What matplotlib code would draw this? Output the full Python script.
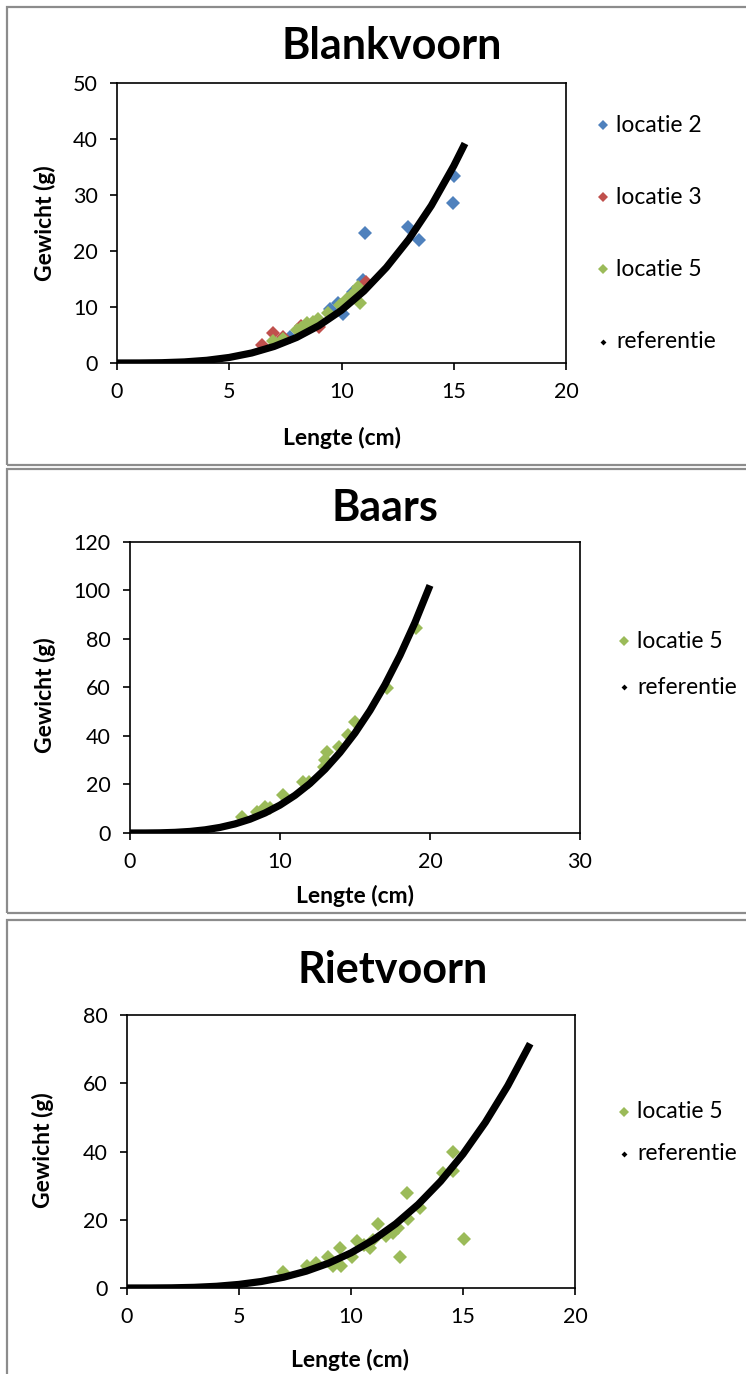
import matplotlib
matplotlib.use("Agg")
import matplotlib.pyplot as plt
from matplotlib.patches import Rectangle
from matplotlib.lines import Line2D

plt.rcParams['font.family'] = ['Lato', 'DejaVu Sans']

# Colours (Excel 2007 palette)
blue = '#4F81BD'
red = '#C0504D'
green = '#9BBB59'

# ---- Blankvoorn ----
bv_loc2_len = [11.05, 15.0, 14.98, 12.97, 13.47, 10.97, 10.05, 9.85, 9.5, 10.5, 7.7, 7.4]
bv_loc2_w = [23.2, 33.4, 28.5, 24.3, 22.0, 14.9, 8.8, 10.7, 9.6, 12.7, 4.7, 4.4]
bv_loc3_len = [6.96, 6.48, 7.38, 11.1, 8.2, 9.0]
bv_loc3_w = [5.3, 3.2, 4.7, 14.5, 6.6, 6.5]
bv_loc5_len = [6.96, 7.38, 8.0, 8.45, 8.97, 9.42, 9.93, 10.23, 10.5, 10.75, 10.82, 8.2, 8.75]
bv_loc5_w = [4.0, 4.2, 5.9, 7.1, 7.8, 8.9, 10.4, 11.5, 12.4, 13.5, 10.7, 6.3, 7.3]
bv_ref_len = [0, 1, 2, 3, 4, 5, 6, 7, 8, 9, 10, 11, 12, 13, 14, 15, 15.5]
bv_ref_w = [0, 0.005, 0.05, 0.19, 0.48, 0.99, 1.79, 2.96, 4.56, 6.69, 9.42,
            12.85, 17.06, 22.1, 28.1, 35.2, 39.2]

# ---- Baars ----
ba_loc5_len = [7.49, 8.45, 9.0, 9.33, 10.22, 11.55, 11.9, 12.9, 13.1, 13.0, 13.95, 14.5, 15.0, 17.1, 19.07]
ba_loc5_w = [6.5, 8.8, 10.8, 10.2, 15.7, 21.2, 21.0, 27.3, 33.5, 30.0, 35.6, 40.4, 45.9, 59.6, 84.4]
ba_ref_len = [0, 1, 2, 3, 4, 5, 6, 7, 8, 9, 10, 11, 12, 13, 14, 15, 16, 17, 18, 19, 20]
ba_ref_w = [0, 0.008, 0.07, 0.26, 0.64, 1.30, 2.30, 3.74, 5.69, 8.25, 11.5,
            15.53, 20.42, 26.27, 33.19, 41.23, 50.52, 61.16, 73.25, 86.83, 102.1]

# ---- Rietvoorn ----
rv_loc5_len = [6.98, 8.02, 8.44, 8.99, 9.21, 9.51, 9.54, 10.03, 10.25, 10.6, 10.85, 11.22, 11.0,
               11.56, 11.86, 12.1, 12.2, 12.5, 12.56, 13.08, 14.1, 14.54, 14.57, 15.04]
rv_loc5_w = [4.8, 6.5, 7.4, 9.2, 6.5, 11.6, 6.5, 9.0, 13.9, 12.5, 11.6, 18.8, 14.0,
             15.2, 16.2, 17.5, 9.0, 27.8, 20.1, 23.4, 33.6, 40.0, 34.2, 14.5]
rv_ref_len = [0, 1, 2, 3, 4, 5, 6, 7, 8, 9, 10, 11, 12, 13, 14, 15, 16, 17, 18]
rv_ref_w = [0, 0.005, 0.05, 0.19, 0.50, 1.05, 1.91, 3.17, 4.93, 7.27, 10.29,
            14.11, 18.81, 24.49, 31.26, 39.24, 48.56, 59.28, 71.6]

W, H = 746, 1374
fig = plt.figure(figsize=(W / 100, H / 100), dpi=100)


def fx(px):
    return px / W


def fy(py):
    return 1 - py / H


# grey chart borders
for top, bottom in [(7, 465), (469, 913), (920, 1400)]:
    fig.add_artist(Rectangle((fx(7), fy(bottom)), fx(760), (bottom - top) / H,
                             transform=fig.transFigure, fill=False,
                             edgecolor='#8c8c8c', linewidth=1.6))


def make_axes(left, right, top, bottom):
    ax = fig.add_axes([fx(left), fy(bottom), (right - left) / W, (bottom - top) / H])
    for s in ax.spines.values():
        s.set_linewidth(1.2)
    ax.tick_params(direction='out', length=5, width=1.2, labelsize=15.5, pad=9)
    return ax


def legend_entry(x, y, label, color, ms):
    fig.add_artist(Line2D([fx(x)], [fy(y)], marker='D', color=color, markersize=ms,
                          markeredgewidth=0, transform=fig.transFigure))
    fig.text(fx(x + 13), fy(y), label, fontsize=16.5, va='center', ha='left')


def draw_panel(ax, series, ref_len, ref_w, xlim, xticks, ylim, yticks,
               title, title_xy, ylab_xy, xlab_xy):
    for lens, ws, c in series:
        ax.plot(lens, ws, 'D', color=c, markersize=7.3, markeredgewidth=0, zorder=3)
    ax.plot(ref_len, ref_w, '-', color='black', linewidth=5.2,
            solid_capstyle='butt', zorder=4)
    ax.set_xlim(xlim)
    ax.set_ylim(ylim)
    ax.set_xticks(xticks)
    ax.set_yticks(yticks)
    fig.text(fx(title_xy[0]), fy(title_xy[1]), title, fontsize=31, fontweight='bold',
             ha='center', va='center')
    fig.text(fx(ylab_xy[0]), fy(ylab_xy[1]), 'Gewicht (g)', fontsize=16.5, fontweight='bold',
             ha='center', va='center', rotation=90)
    fig.text(fx(xlab_xy[0]), fy(xlab_xy[1]), 'Lengte (cm)', fontsize=16.5, fontweight='bold',
             ha='center', va='center')


# Blankvoorn
ax1 = make_axes(117, 566, 83, 363)
draw_panel(ax1, [(bv_loc2_len, bv_loc2_w, blue), (bv_loc3_len, bv_loc3_w, red),
                 (bv_loc5_len, bv_loc5_w, green)],
           bv_ref_len, bv_ref_w, (0, 20), [0, 5, 10, 15, 20], (0, 50), [0, 10, 20, 30, 40, 50],
           'Blankvoorn', (392, 46), (45, 223), (342, 438))
legend_entry(603, 125, 'locatie 2', blue, 5.2)
legend_entry(603, 197, 'locatie 3', red, 5.2)
legend_entry(603, 269, 'locatie 5', green, 5.2)
legend_entry(603, 342, 'referentie', 'black', 3.0)

# Baars
ax2 = make_axes(130, 580, 542, 833)
draw_panel(ax2, [(ba_loc5_len, ba_loc5_w, green)],
           ba_ref_len, ba_ref_w, (0, 30), [0, 10, 20, 30], (0, 120), [0, 20, 40, 60, 80, 100, 120],
           'Baars', (385, 508), (45, 695), (355, 896))
legend_entry(624, 641, 'locatie 5', green, 5.2)
legend_entry(624, 687, 'referentie', 'black', 3.0)

# Rietvoorn
ax3 = make_axes(127, 575, 1015, 1288)
draw_panel(ax3, [(rv_loc5_len, rv_loc5_w, green)],
           rv_ref_len, rv_ref_w, (0, 20), [0, 5, 10, 15, 20], (0, 80), [0, 20, 40, 60, 80],
           'Rietvoorn', (393, 970), (43, 1150), (350, 1360))
legend_entry(624, 1112, 'locatie 5', green, 5.2)
legend_entry(624, 1154, 'referentie', 'black', 3.0)

fig.savefig('out.png', dpi=100)
